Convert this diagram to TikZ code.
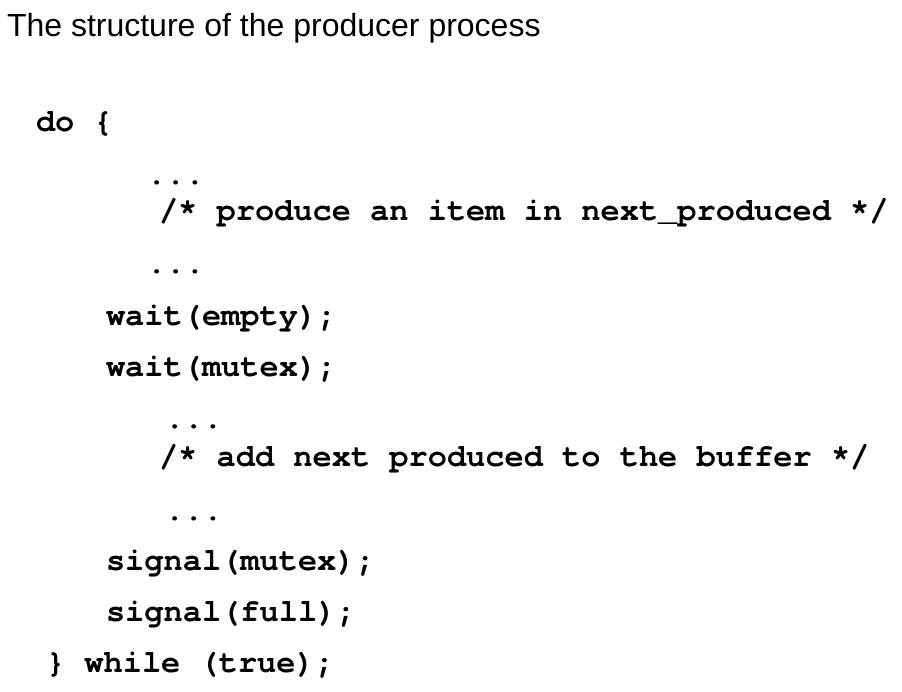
\documentclass[tikz,border=0pt]{standalone}
\usepackage{fontspec}
\setmainfont{Liberation Sans}
\newfontfamily\codefont[Ligatures=NoCommon]{TeX Gyre Cursor}
\begin{document}
\begin{tikzpicture}[x=1pt,y=1pt,
  every node/.style={inner sep=0pt,outer sep=0pt,anchor=base west},
  title/.style={font=\fontsize{32}{38}\selectfont},
  code/.style={font=\codefont\bfseries\fontsize{32}{38}\selectfont}]
\useasboundingbox (0,0) rectangle (902,-691);
\node[title] (t) at (7,-36) {The structure of the producer process};
\node[code] (l1) at (36,-131) {do \{};
\node[code] (l2) at (147,-184) {...};
\node[code] (l3) at (159,-220) {/* produce an item in next\_produced */};
\node[code] (l4) at (147,-273) {...};
\node[code] (l5) at (106,-325) {wait(empty);};
\node[code] (l6) at (106,-376) {wait(mutex);};
\node[code] (l7) at (165,-428) {...};
\node[code] (l8) at (159,-466) {/* add next produced to the buf\kern0pt f\kern0pt er */};
\node[code] (l9) at (165,-520) {...};
\node[code] (l10) at (106,-570) {signal(mutex);};
\node[code] (l11) at (106,-621) {signal(full);};
\node[code] (l12) at (46,-672) {\} while (true);};
\end{tikzpicture}
\end{document}
